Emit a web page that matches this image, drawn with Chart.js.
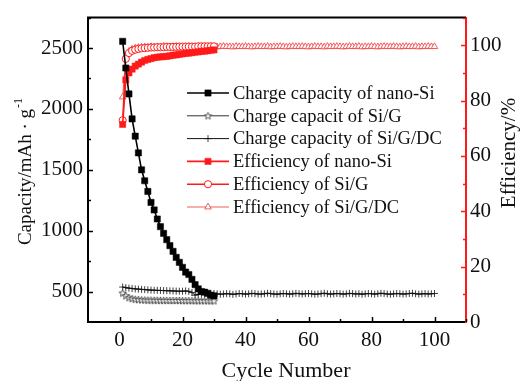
<!DOCTYPE html>
<html>
<head>
<meta charset="utf-8">
<script src="https://cdn.jsdelivr.net/npm/chart.js@4/dist/chart.umd.min.js"></script>
<style>
    html, body { margin: 0; padding: 0; background: #fff; }
    #wrap { width: 522px; height: 381px; }
</style>
</head>
<body>
<div id="wrap"><canvas id="capChart" width="522" height="381"></canvas></div>
<script>
// values
const seriesNames = [
    'Charge capacity of nano-Si',
    'Charge capacit of Si/G',
    'Charge capacity of Si/G/DC',
    'Efficiency of nano-Si',
    'Efficiency of Si/G',
    'Efficiency of Si/G/DC'
];

const nanoSiCapacity = [2555, 2336, 2123, 1918, 1776, 1639, 1500, 1410, 1322, 1232,
    1170, 1096, 1033, 978, 926, 877, 830, 781, 740, 699,
    660, 640, 600, 557, 522, 500, 495, 486, 470, 465];

const siGCapacity = [488, 465, 450, 442, 437, 434, 432, 431, 430, 430,
    429, 429, 428, 428, 428, 427, 427, 427, 427, 426,
    426, 426, 426, 425, 425, 425, 425, 425, 424, 424];

const siGDCCapacity = [537, 532, 528, 525, 522, 520, 518, 516, 514, 512,
    511, 510, 509, 508, 507, 506, 505, 504, 503, 503,
    505, 502, 492, 470, 478, 484, 482, 479, 481, 484,
    482, 478, 480, 483, 481, 477, 480, 484, 482, 479,
    481, 485, 483, 479, 480, 482, 486, 483, 480, 478,
    481, 484, 482, 479, 481, 485, 483, 480, 482, 484,
    481, 478, 480, 483, 486, 482, 479, 481, 484, 482,
    479, 481, 485, 483, 480, 482, 478, 481, 484, 482,
    479, 482, 486, 483, 480, 478, 481, 484, 482, 479,
    481, 484, 486, 482, 479, 481, 483, 480, 482, 484];

const nanoSiEfficiency = [71.4, 87.5, 90.0, 91.4, 92.5, 93.2, 93.9, 94.5, 94.9, 95.2,
    95.5, 95.7, 95.8, 95.9, 96.0, 96.2, 96.4, 96.5, 96.7, 96.9,
    97.1, 97.2, 97.3, 97.5, 97.6, 97.8, 97.9, 98.0, 98.2, 98.3];

const siGEfficiency = [72.9, 95.1, 97.2, 98.0, 98.4, 98.7, 98.9, 99.0, 99.1, 99.2,
    99.2, 99.3, 99.3, 99.3, 99.4, 99.4, 99.4, 99.4, 99.5, 99.5,
    99.5, 99.5, 99.5, 99.5, 99.6, 99.6, 99.6, 99.6, 99.6, 99.6];

const siGDCEfficiency = [81.3, 96.0, 97.8, 98.6, 99.0, 99.2, 99.3, 99.4, 99.3, 99.5,
    99.4, 99.5, 99.4, 99.6, 99.5, 99.4, 99.5, 99.6, 99.5, 99.4,
    99.5, 99.6, 99.5, 99.4, 99.5, 99.6, 99.5, 99.5, 99.6, 99.5,
    99.4, 99.5, 99.6, 99.5, 99.5, 99.4, 99.6, 99.5, 99.5, 99.6,
    99.5, 99.4, 99.5, 99.6, 99.5, 99.5, 99.6, 99.4, 99.5, 99.5,
    99.6, 99.5, 99.4, 99.5, 99.6, 99.5, 99.5, 99.6, 99.5, 99.4,
    99.5, 99.6, 99.5, 99.5, 99.4, 99.6, 99.5, 99.5, 99.6, 99.5,
    99.4, 99.5, 99.6, 99.5, 99.5, 99.6, 99.4, 99.5, 99.5, 99.6,
    99.5, 99.4, 99.5, 99.6, 99.5, 99.5, 99.6, 99.5, 99.4, 99.5,
    99.6, 99.5, 99.5, 99.6, 99.4, 99.5, 99.5, 99.6, 99.5, 99.5];

const xTicks = [0, 20, 40, 60, 80, 100];
const capTicks = [500, 1000, 1500, 2000, 2500];
const effTicks = [0, 20, 40, 60, 80, 100];

const FONT = '"Liberation Serif", "Times New Roman", serif';
const RED = '#ff1a1a';

// cycle number is the point index + 1
function toPoints(values) {
    return values.map((v, i) => ({ x: i + 1, y: v }));
}

// small open five-pointed star for the Si/G marker
function makeStar() {
    const c = document.createElement('canvas');
    c.width = 9; c.height = 9;
    const g = c.getContext('2d');
    g.beginPath();
    for (let i = 0; i < 10; i++) {
        const r = i % 2 === 0 ? 3.8 : 1.6;
        const a = -Math.PI / 2 + i * Math.PI / 5;
        const px = 4.5 + r * Math.cos(a), py = 4.8 + r * Math.sin(a);
        if (i === 0) g.moveTo(px, py); else g.lineTo(px, py);
    }
    g.closePath();
    g.fillStyle = '#fff';
    g.fill();
    g.strokeStyle = '#444';
    g.lineWidth = 0.9;
    g.stroke();
    return c;
}
const starMark = makeStar();

// inward ticks, frame top line, axis titles and the legend
const decorPlugin = {
    id: 'decor',
    afterDraw(chart) {
        const ctx = chart.ctx;
        const area = chart.chartArea;
        const x = chart.scales.x, y = chart.scales.y, y1 = chart.scales.y1;
        ctx.save();

        // top frame line
        ctx.strokeStyle = '#000';
        ctx.lineWidth = 2;
        ctx.beginPath();
        ctx.moveTo(area.left - 1, area.top);
        ctx.lineTo(area.right, area.top);
        ctx.stroke();

        ctx.lineWidth = 1.5;
        // x ticks
        for (let v = 0; v <= 110; v += 10) {
            const px = Math.round(x.getPixelForValue(v)) + 0.5;
            const len = v % 20 === 0 ? 5 : 3;
            ctx.beginPath();
            ctx.moveTo(px, area.bottom);
            ctx.lineTo(px, area.bottom - len);
            ctx.stroke();
        }
        // left ticks
        for (let v = 500; v <= 2750; v += 250) {
            const py = Math.round(y.getPixelForValue(v)) + 0.5;
            const len = v % 500 === 0 ? 5 : 3;
            ctx.beginPath();
            ctx.moveTo(area.left, py);
            ctx.lineTo(area.left + len, py);
            ctx.stroke();
        }
        // right ticks (red)
        ctx.strokeStyle = RED;
        for (let v = 10; v <= 110; v += 10) {
            const py = Math.round(y1.getPixelForValue(v)) + 0.5;
            const len = v % 20 === 0 ? 5 : 3;
            ctx.beginPath();
            ctx.moveTo(area.right, py);
            ctx.lineTo(area.right - len, py);
            ctx.stroke();
        }

        // axis titles
        ctx.fillStyle = '#111';
        ctx.textBaseline = 'alphabetic';
        ctx.font = '22px ' + FONT;
        ctx.textAlign = 'center';
        ctx.fillText('Cycle Number', 286, 377);

        ctx.save();
        ctx.translate(31, 172);
        ctx.rotate(-Math.PI / 2);
        ctx.font = '19px ' + FONT;
        const main = 'Capacity/mAh · g';
        const wMain = ctx.measureText(main).width;
        ctx.font = '12px ' + FONT;
        const wSup = ctx.measureText('-1').width;
        const start = -(wMain + wSup) / 2;
        ctx.textAlign = 'left';
        ctx.font = '19px ' + FONT;
        ctx.fillText(main, start, 0);
        ctx.font = '12px ' + FONT;
        ctx.fillText('-1', start + wMain + 1, -9);
        ctx.restore();

        ctx.save();
        ctx.translate(515, 153);
        ctx.rotate(-Math.PI / 2);
        ctx.font = '21px ' + FONT;
        ctx.textAlign = 'center';
        ctx.fillText('Efficiency/%', 0, 0);
        ctx.restore();

        // legend: line sample with marker, then label
        chart.data.datasets.forEach((ds, i) => {
            const ly = 93 + i * 22.8;
            ctx.strokeStyle = ds.borderColor;
            ctx.lineWidth = ds.borderWidth;
            ctx.beginPath();
            ctx.moveTo(187, ly);
            ctx.lineTo(229, ly);
            ctx.stroke();
            ctx.fillStyle = ds.pointBackgroundColor;
            ctx.strokeStyle = ds.pointBorderColor;
            ctx.lineWidth = ds.pointBorderWidth;
            Chart.helpers.drawPoint(ctx, {
                pointStyle: ds.pointStyle,
                rotation: 0,
                radius: ds.pointRadius,
                borderWidth: ds.pointBorderWidth
            }, 208, ly);
            ctx.fillStyle = '#111';
            ctx.font = '18.5px ' + FONT;
            ctx.textAlign = 'left';
            ctx.textBaseline = 'middle';
            ctx.fillText(ds.label, 233, ly + 1);
        });
        ctx.restore();
    }
};

const tickFont = { family: FONT, size: 21 };
const plainLabel = v => String(v);

const ctx = document.getElementById('capChart').getContext('2d');
new Chart(ctx, {
    type: 'line',
    data: {
        datasets: [
            {
                label: seriesNames[0],
                data: toPoints(nanoSiCapacity),
                yAxisID: 'y',
                borderColor: '#000',
                borderWidth: 1.6,
                pointStyle: 'rect',
                pointRadius: 4.4,
                pointBackgroundColor: '#000',
                pointBorderColor: '#000',
                pointBorderWidth: 0.5
            },
            {
                label: seriesNames[1],
                data: toPoints(siGCapacity),
                yAxisID: 'y',
                borderColor: '#333',
                borderWidth: 1,
                pointStyle: starMark,
                pointRadius: 4,
                pointBackgroundColor: '#fff',
                pointBorderColor: '#444',
                pointBorderWidth: 1
            },
            {
                label: seriesNames[2],
                data: toPoints(siGDCCapacity),
                yAxisID: 'y',
                borderColor: '#111',
                borderWidth: 1,
                pointStyle: 'cross',
                pointRadius: 3.5,
                pointBackgroundColor: '#111',
                pointBorderColor: '#111',
                pointBorderWidth: 0.8
            },
            {
                label: seriesNames[3],
                data: toPoints(nanoSiEfficiency),
                yAxisID: 'y1',
                borderColor: RED,
                borderWidth: 1.6,
                pointStyle: 'rect',
                pointRadius: 4.4,
                pointBackgroundColor: RED,
                pointBorderColor: RED,
                pointBorderWidth: 0.5
            },
            {
                label: seriesNames[4],
                data: toPoints(siGEfficiency),
                yAxisID: 'y1',
                borderColor: RED,
                borderWidth: 1.4,
                pointStyle: 'circle',
                pointRadius: 3.6,
                pointBackgroundColor: '#fff',
                pointBorderColor: RED,
                pointBorderWidth: 1
            },
            {
                label: seriesNames[5],
                data: toPoints(siGDCEfficiency),
                yAxisID: 'y1',
                borderColor: '#f24a4a',
                borderWidth: 0.9,
                pointStyle: 'triangle',
                pointRadius: 3.8,
                pointBackgroundColor: '#fff',
                pointBorderColor: '#f24a4a',
                pointBorderWidth: 0.9
            }
        ]
    },
    options: {
        responsive: false,
        animation: false,
        layout: { padding: { top: 16, left: 0, right: 0, bottom: 0 } },
        plugins: {
            legend: { display: false },
            title: { display: false },
            tooltip: { enabled: false }
        },
        elements: { line: { tension: 0 } },
        scales: {
            x: {
                type: 'linear',
                min: -10,
                max: 110,
                afterBuildTicks: s => { s.ticks = xTicks.map(v => ({ value: v })); },
                afterFit: s => { s.height = 59; },
                grid: { display: false, drawTicks: false },
                border: { display: true, color: '#000', width: 2 },
                ticks: { color: '#111', padding: 6, font: tickFont, callback: plainLabel }
            },
            y: {
                position: 'left',
                min: 250,
                max: 2750,
                afterBuildTicks: s => { s.ticks = capTicks.map(v => ({ value: v })); },
                afterFit: s => { s.width = 88; },
                grid: { display: false, drawTicks: false },
                border: { display: true, color: '#000', width: 2 },
                ticks: { color: '#111', padding: 5, font: tickFont, callback: plainLabel }
            },
            y1: {
                position: 'right',
                min: 0,
                max: 110,
                afterBuildTicks: s => { s.ticks = effTicks.map(v => ({ value: v })); },
                afterFit: s => { s.width = 56; },
                grid: { display: false, drawTicks: false },
                border: { display: true, color: RED, width: 2 },
                ticks: { color: '#111', padding: 4, font: tickFont, callback: plainLabel }
            }
        }
    },
    plugins: [decorPlugin]
});
</script>
</body>
</html>
